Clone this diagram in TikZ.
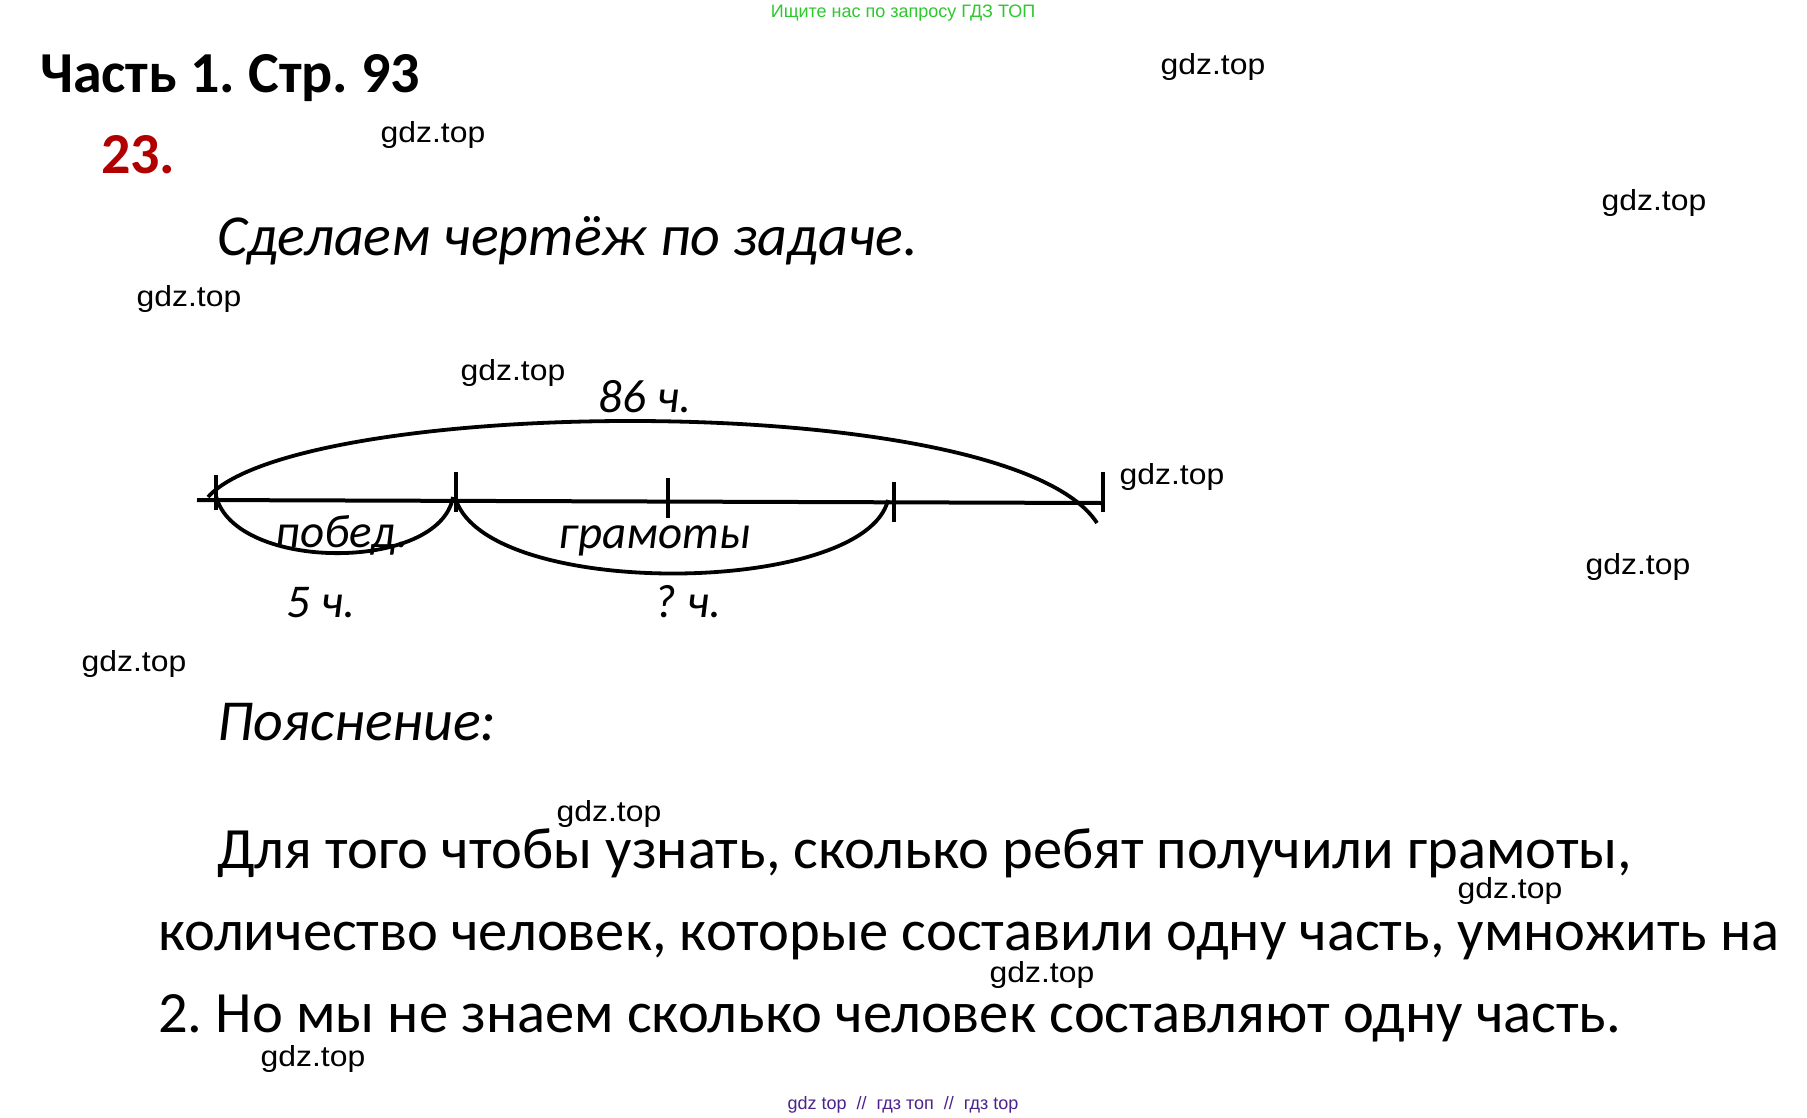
\documentclass[tikz,border=0pt]{standalone}
\usepackage{fontspec}
\setmainfont{Carlito}
\newfontfamily\wmfont{Liberation Sans}
\definecolor{numred}{RGB}{176,0,0}
\definecolor{topgreen}{RGB}{45,200,45}
\definecolor{botpurple}{RGB}{75,35,140}
\newcommand{\wmtext}{\scalebox{1.1}[1]{gdz.top}}
\tikzset{
  txt/.style={inner sep=0pt, outer sep=0pt, anchor=base west},
  wm/.style={inner sep=0pt, font=\wmfont\fontsize{29}{32}\selectfont},
  heading/.style={txt, font=\bfseries\fontsize{58}{64}\selectfont},
  ital/.style={txt, font=\itshape\fontsize{58}{64}\selectfont},
  para/.style={txt, font=\fontsize{58.5}{64}\selectfont},
  lbl/.style={inner sep=0pt, outer sep=0pt, anchor=base, font=\itshape\fontsize{47}{50}\selectfont},
  seg/.style={line width=4pt},
  tick/.style={line width=4pt},
  arc/.style={line width=3.8pt}
}
\begin{document}
\frenchspacing
\begin{tikzpicture}[x=1pt,y=-1pt]
\useasboundingbox[fill=white] (0,0) rectangle (1807,1117);
% top and bottom banners
\node[inner sep=0pt, anchor=base, font=\wmfont\fontsize{18}{20}\selectfont, text=topgreen] (banner) at (903,17) {Ищите нас по запросу ГДЗ ТОП};
\node[inner sep=0pt, anchor=base, font=\wmfont\fontsize{18}{20}\selectfont, text=botpurple] (footer) at (903,1109) {gdz top ~//~ гдз топ ~//~ гдз top};
% headings
\node[heading] (title) at (40,92) {Часть 1. Стр. 93};
\node[heading, text=numred] (num) at (101,173) {23.};
\node[ital] (task) at (217,255) {Сделаем чертёж по задаче.};
\node[ital] (expl) at (217,740) {Пояснение:};
% paragraph
\node[para] (p1) at (217,868) {Для того чтобы узнать, сколько ребят получили грамоты,};
\node[para] (p2) at (158,950) {количество человек, которые составили одну часть, умножить на};
\node[para] (p3) at (158,1032) {2. Но мы не знаем сколько человек составляют одну часть.};
% diagram coordinates
\coordinate (L0) at (197,500);
\coordinate (R0) at (1103,503);
\coordinate (t1a) at (216,475); \coordinate (t1b) at (216,510);
\coordinate (t2a) at (456,472); \coordinate (t2b) at (456,512);
\coordinate (t3a) at (668,478); \coordinate (t3b) at (668,518);
\coordinate (t4a) at (894,482); \coordinate (t4b) at (894,522);
\coordinate (t5a) at (1103,472); \coordinate (t5b) at (1103,512);
\coordinate (A0) at (208,497);
\coordinate (A1) at (1097,523);
\coordinate (B0) at (216,496);
\coordinate (B1) at (453,497);
\coordinate (C0) at (456,500);
\coordinate (C1) at (888,500);
% main segment and ticks
\draw[seg] (L0) -- (R0);
\draw[tick] (t1a) -- (t1b);
\draw[tick] (t2a) -- (t2b);
\draw[tick] (t3a) -- (t3b);
\draw[tick] (t4a) -- (t4b);
\draw[tick] (t5a) -- (t5b);
% arcs
\draw[arc] (A0) .. controls (300,395) and (1010,388) .. (A1);
\draw[arc] (B0) .. controls (235,572) and (440,572) .. (B1);
\draw[arc] (C0) .. controls (490,600) and (865,596) .. (C1);
% labels
\node[lbl] (total) at (645,412) {86 ч.};
\node[lbl] (wins) at (342,547) {побед.};
\node[lbl] (certs) at (655,548) {грамоты};
\node[lbl] (five) at (321,617) {5 ч.};
\node[lbl] (unk) at (688,617) {? ч.};
% watermarks
\node[wm] (w1) at (1213,67) {\wmtext};
\node[wm] (w2) at (433,135) {\wmtext};
\node[wm] (w3) at (1654,203) {\wmtext};
\node[wm] (w4) at (189,299) {\wmtext};
\node[wm] (w5) at (513,373) {\wmtext};
\node[wm] (w6) at (1172,477) {\wmtext};
\node[wm] (w7) at (1638,567) {\wmtext};
\node[wm] (w8) at (134,664) {\wmtext};
\node[wm] (w9) at (609,814) {\wmtext};
\node[wm] (w10) at (1510,891) {\wmtext};
\node[wm] (w11) at (1042,975) {\wmtext};
\node[wm] (w12) at (313,1059) {\wmtext};
\end{tikzpicture}
\end{document}
